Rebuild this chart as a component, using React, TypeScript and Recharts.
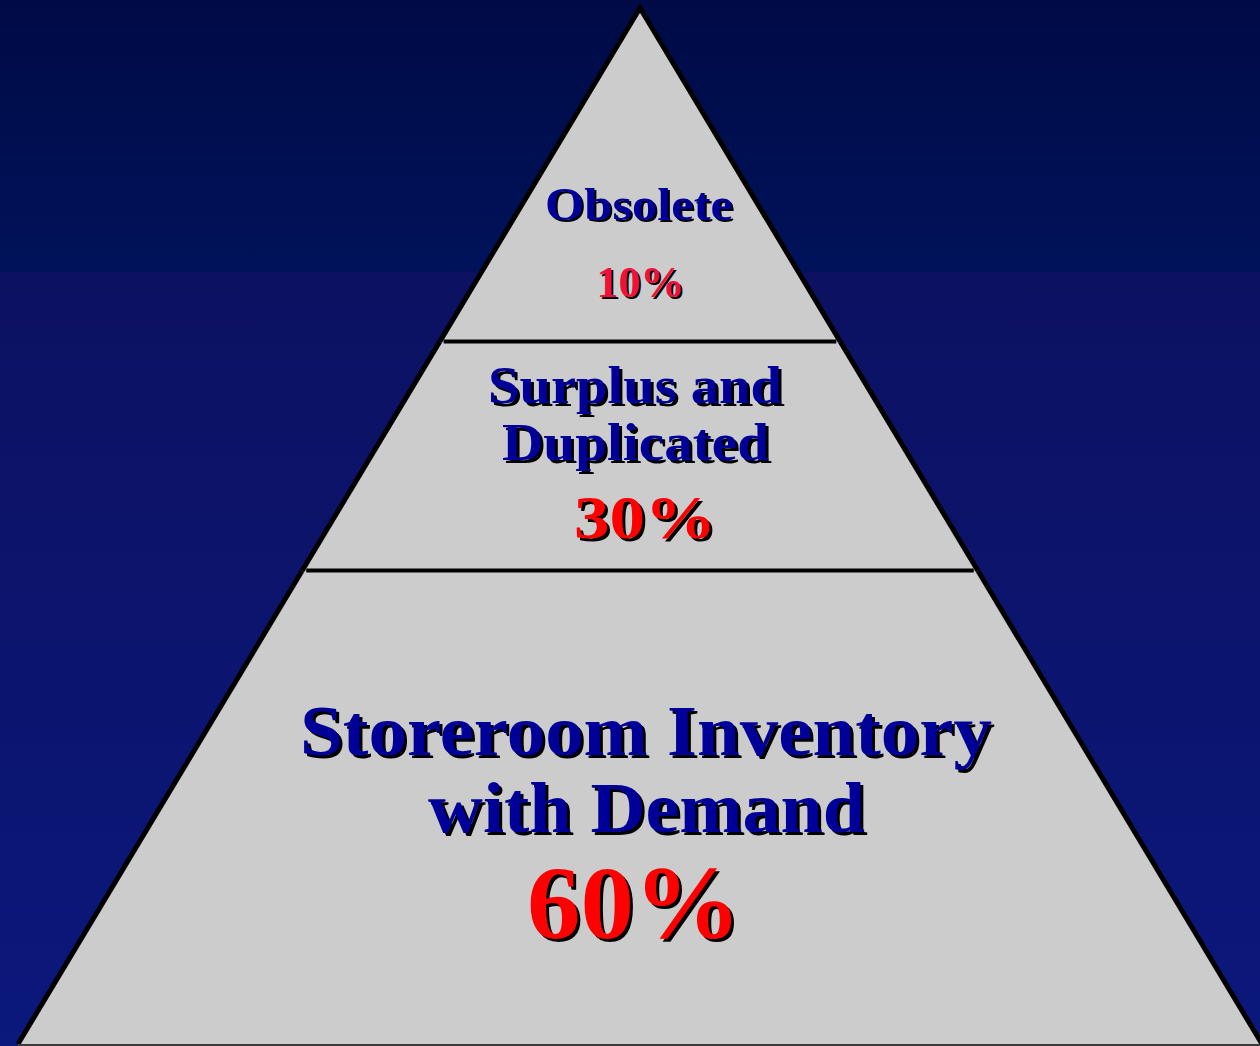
import { Bar, BarChart, XAxis, YAxis } from 'recharts';

// Pyramid sections, listed bottom to top (stack order)
const SECTION_NAMES = ['Storeroom Inventory with Demand', 'Surplus and Duplicated', 'Obsolete'];
const SECTION_LINES = [['Storeroom Inventory', 'with Demand'], ['Surplus and', 'Duplicated'], ['Obsolete']];
const SECTION_SHARES = [60, 30, 10];
// share of the pyramid's height taken by each band
const SECTION_DEPTHS = [45.7, 22.1, 32.2];

const KEYS = SECTION_NAMES.map((_, i) => `s${i}`);
const chartData = [
  KEYS.reduce<Record<string, number | string>>((row, k, i) => ({ ...row, [k]: SECTION_DEPTHS[i] }), { name: 'inventory' }),
];

const W = 1260;
const H = 1046;
const MARGIN = { top: 8, right: 0, bottom: 2, left: 20 };
const APEX_Y = MARGIN.top;
const BASE_Y = H - MARGIN.bottom;
const HALF_BASE = 622;

const NAVY = '#000099';
const FONT = "'Liberation Serif', 'Times New Roman', serif";

// text layout per band: baseline offset from the band's top edge, size, advance length
const TEXT_LAYOUT = [
  {
    shadow: 3,
    lines: [
      { dy: 184.5, size: 71, len: 692, dx: 6 },
      { dy: 261.5, size: 71, len: 437, dx: 6.5 },
    ],
    pct: { dy: 367.5, size: 103, len: 214, dx: -6, color: '#ff0000' },
  },
  {
    shadow: 3,
    lines: [
      { dy: 61.4, size: 53, len: 294, dx: -5 },
      { dy: 118.4, size: 53, len: 267, dx: -4.5 },
    ],
    pct: { dy: 196.4, size: 61, len: 142, dx: 5, color: '#ff0000' },
  },
  {
    shadow: 2,
    lines: [{ dy: 212, size: 47, len: 188, dx: -1 }],
    pct: { dy: 289, size: 44, len: 88, dx: 0.5, color: '#f0103c' },
  },
];

function ShadowText({ x, y, size, len, color, shadow, children }: any) {
  const common = {
    textAnchor: 'middle' as const,
    fontFamily: FONT,
    fontWeight: 'bold',
    fontSize: size,
    textLength: len,
    lengthAdjust: 'spacingAndGlyphs' as const,
  };
  return (
    <g>
      <text x={x + shadow} y={y + shadow} fill="#000000" {...common}>
        {children}
      </text>
      <text x={x} y={y} fill={color} {...common}>
        {children}
      </text>
    </g>
  );
}

function Band(props: any) {
  const { x, y, width, height, idx } = props;
  const cx = x + width / 2;
  const half = (yy: number) => (HALF_BASE * (yy - APEX_Y)) / (BASE_Y - APEX_Y);
  const top = y;
  const bot = y + height;
  const ht = half(top);
  const hb = half(bot);
  const isTop = idx === SECTION_NAMES.length - 1;
  const layout = TEXT_LAYOUT[idx];
  const inset = 4;

  return (
    <g>
      <polygon
        points={`${cx - ht},${top} ${cx + ht},${top} ${cx + hb},${bot} ${cx - hb},${bot}`}
        fill="#cccccc"
        stroke="none"
      />
      {isTop ? (
        <polyline
          points={`${cx - hb},${bot} ${cx},${top} ${cx + hb},${bot}`}
          fill="none"
          stroke="#000000"
          strokeWidth={5}
          strokeLinejoin="miter"
          strokeMiterlimit={10}
        />
      ) : (
        <g>
          <line x1={cx - ht} y1={top} x2={cx - hb} y2={bot} stroke="#000000" strokeWidth={5} />
          <line x1={cx + ht} y1={top} x2={cx + hb} y2={bot} stroke="#000000" strokeWidth={5} />
        </g>
      )}
      {idx === 0 ? (
        <line x1={cx - hb} y1={bot + 1} x2={cx + hb} y2={bot + 1} stroke="#3a3a3a" strokeWidth={2} />
      ) : (
        // divider under this band, drawn here so the band's fill does not cover it
        <line
          x1={cx - hb + inset}
          y1={bot}
          x2={cx + hb - inset}
          y2={bot}
          stroke="#000000"
          strokeWidth={4}
        />
      )}
      {SECTION_LINES[idx].map((t, i) => {
        const l = layout.lines[i];
        return (
          <ShadowText
            key={t}
            x={cx + l.dx}
            y={top + l.dy}
            size={l.size}
            len={l.len}
            color={NAVY}
            shadow={layout.shadow}
          >
            {t}
          </ShadowText>
        );
      })}
      <ShadowText
        x={cx + layout.pct.dx}
        y={top + layout.pct.dy}
        size={layout.pct.size}
        len={layout.pct.len}
        color={layout.pct.color}
        shadow={layout.shadow}
      >
        {`${SECTION_SHARES[idx]}%`}
      </ShadowText>
    </g>
  );
}

export default function App() {
  return (
    <div
      style={{
        position: 'absolute',
        top: 0,
        left: 0,
        width: W,
        height: H,
        background:
          'linear-gradient(to bottom, #000b46 0px, #00125a 271px, #0c1161 272px, #0b187c 1046px)',
      }}
    >
      <BarChart width={W} height={H} data={chartData} margin={MARGIN} barCategoryGap={0}>
        <XAxis dataKey="name" hide />
        <YAxis type="number" domain={[0, 100]} hide />
        {KEYS.map((k, i) => (
          <Bar
            key={k}
            dataKey={k}
            stackId="pyramid"
            isAnimationActive={false}
            shape={(p: any) => <Band {...p} idx={i} />}
          />
        ))}
      </BarChart>
    </div>
  );
}
